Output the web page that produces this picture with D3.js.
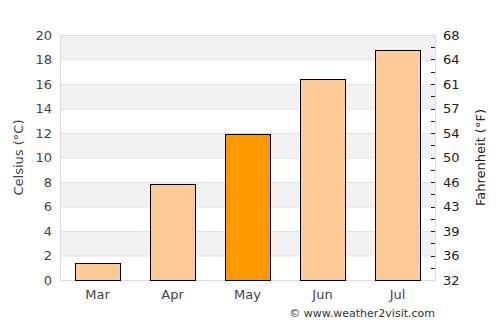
<!DOCTYPE html>
<html>
<head>
<meta charset="utf-8">
<script src="https://cdn.jsdelivr.net/npm/d3@7"></script>
<style>
  body { margin: 0; background: #fff; }
  text { font-family: "DejaVu Sans", sans-serif; }
</style>
</head>
<body>
<script>
// monthly average temperature, celsius
var months = ['Mar', 'Apr', 'May', 'Jun', 'Jul'];
var celsius = [1.4, 7.8, 11.9, 16.4, 18.8];
var highlight = 'May';

// tick values for both axes
var cTicks = [0, 2, 4, 6, 8, 10, 12, 14, 16, 18, 20];
var fLabels = ['32', '36', '39', '43', '46', '50', '54', '57', '61', '64', '68'];

var width = 500, height = 325;
var margin = {top: 35, right: 65, bottom: 45, left: 60};

var svg = d3.select('body').append('svg')
  .attr('width', width)
  .attr('height', height);

var x = d3.scaleBand()
  .domain(months)
  .range([margin.left, width - margin.right])
  .paddingInner(0.4)
  .paddingOuter(0.2);

var y = d3.scaleLinear()
  .domain([0, 20])
  .range([height - margin.bottom, margin.top]);

// alternating bands
svg.append('g').selectAll('rect')
  .data(cTicks.slice(0, -1))
  .enter().append('rect')
  .attr('x', margin.left)
  .attr('y', function(d) { return y(d + 2); })
  .attr('width', width - margin.right - margin.left)
  .attr('height', function(d) { return y(d) - y(d + 2); })
  .attr('fill', function(d, i) { return i % 2 ? '#f2f2f2' : '#fff'; });

// grid lines
svg.append('g').selectAll('line')
  .data(cTicks)
  .enter().append('line')
  .attr('x1', margin.left)
  .attr('x2', width - margin.right)
  .attr('y1', function(d) { return y(d) + 0.5; })
  .attr('y2', function(d) { return y(d) + 0.5; })
  .attr('stroke', '#e0e0e0');

// plot border
svg.append('rect')
  .attr('x', margin.left + 0.5)
  .attr('y', margin.top + 0.5)
  .attr('width', width - margin.right - margin.left)
  .attr('height', height - margin.bottom - margin.top)
  .attr('fill', 'none')
  .attr('stroke', '#dddddd');

// bars
svg.append('g').selectAll('rect')
  .data(celsius)
  .enter().append('rect')
  .attr('x', function(d, i) { return Math.round(x(months[i])) + 0.5; })
  .attr('y', function(d) { return Math.round(y(d)) + 0.5; })
  .attr('width', x.bandwidth())
  .attr('height', function(d) { return Math.round(y(0)) - Math.round(y(d)); })
  .attr('fill', function(d, i) { return months[i] === highlight ? '#ff9900' : '#ffcc99'; })
  .attr('stroke', '#000')
  .attr('stroke-width', 1);

// left axis
var left = svg.append('g')
  .attr('transform', 'translate(' + margin.left + ',0)')
  .call(d3.axisLeft(y).tickValues(cTicks).tickSize(0).tickPadding(8));
left.select('.domain').remove();
left.selectAll('text').attr('font-size', 13).attr('fill', '#444').attr('font-family', 'DejaVu Sans');

// right axis, fahrenheit labels at celsius positions
var right = svg.append('g')
  .attr('transform', 'translate(' + (width - margin.right) + ',0)')
  .call(d3.axisRight(y).tickValues(cTicks).tickSize(0).tickPadding(8)
    .tickFormat(function(d, i) { return fLabels[i]; }));
right.select('.domain').remove();
right.selectAll('text').attr('font-size', 13).attr('fill', '#222').attr('font-family', 'DejaVu Sans');

// small inward ticks on the right, every 1 celsius
svg.append('g').selectAll('line')
  .data(d3.range(1, 20))
  .enter().append('line')
  .attr('x1', width - margin.right - 4)
  .attr('x2', width - margin.right)
  .attr('y1', function(d) { return Math.round(y(d)) + 0.5; })
  .attr('y2', function(d) { return Math.round(y(d)) + 0.5; })
  .attr('stroke', '#222');

// month labels
var bottom = svg.append('g')
  .attr('transform', 'translate(0,' + (height - margin.bottom) + ')')
  .call(d3.axisBottom(x).tickSize(0).tickPadding(10));
bottom.select('.domain').remove();
bottom.selectAll('text').attr('font-size', 13).attr('fill', '#444').attr('font-family', 'DejaVu Sans');

// axis titles
svg.append('text')
  .attr('transform', 'translate(23,' + (margin.top + (height - margin.bottom - margin.top) / 2) + ') rotate(-90)')
  .attr('text-anchor', 'middle')
  .attr('font-size', 13)
  .attr('fill', '#444')
  .text('Celsius (°C)');

svg.append('text')
  .attr('transform', 'translate(485,' + (margin.top + (height - margin.bottom - margin.top) / 2) + ') rotate(-90)')
  .attr('text-anchor', 'middle')
  .attr('font-size', 13)
  .attr('fill', '#222')
  .text('Fahrenheit (°F)');

// copyright
svg.append('text')
  .attr('x', width - margin.right)
  .attr('y', 317)
  .attr('text-anchor', 'end')
  .attr('font-size', 11)
  .attr('fill', '#333')
  .text('© www.weather2visit.com');
</script>
</body>
</html>
